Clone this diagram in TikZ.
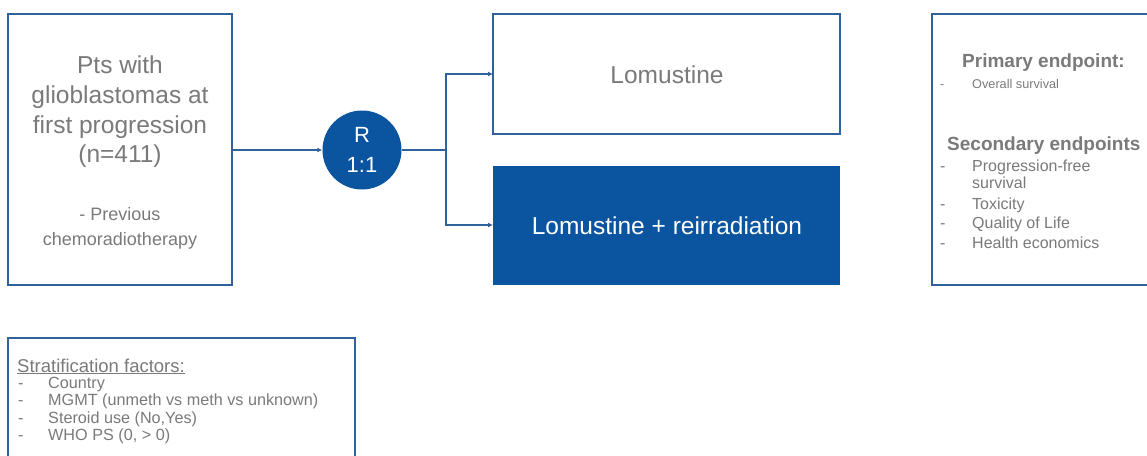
\documentclass[tikz,border=0pt]{standalone}
\usepackage{fontspec}
\setmainfont{Liberation Sans}
\usetikzlibrary{arrows.meta}
\definecolor{tblue}{HTML}{0B549F}
\definecolor{lblue}{HTML}{2F619A}
\definecolor{tgray}{HTML}{7A7A7A}
\tikzset{
  box/.style={draw=lblue, line width=2pt, fill=white},
  conn/.style={draw=lblue, line width=1.8pt},
  arr/.style={conn, -{Latex[length=5pt,width=5pt]}},
  gtxt/.style={text=tgray, inner sep=0pt},
  item/.style={text=tgray, inner sep=0pt, anchor=base west, font=\fontsize{16}{18}\selectfont},
  sitem/.style={item, font=\fontsize{16.2}{18}\selectfont},
}
\begin{document}
\begin{tikzpicture}[x=1pt,y=-1pt]
\useasboundingbox (0,0) rectangle (1147,455);
\clip (0,0) rectangle (1147,455);
\fill[white] (0,0) rectangle (1147,455);
% boxes
\draw[box] (8,14) rectangle (232,285);
\coordinate (pts) at (232,150);
\node[gtxt, align=center, font=\fontsize{24.5}{29.7}\selectfont] (ptst) at (120,112) {Pts with\\glioblastomas at\\first progression\\(n=411)};
\node[gtxt, align=center, font=\fontsize{18}{25}\selectfont] (prev) at (120,228) {- Previous\\chemoradiotherapy};
\node[circle, fill=tblue, minimum size=79pt, inner sep=0pt, text=white, align=center, font=\fontsize{22}{30}\selectfont] (R) at (362,150) {R\\1:1};
\draw[box] (493,14) rectangle (840,134);
\node[gtxt, font=\fontsize{24.5}{25}\selectfont] (lom) at (667,75) {Lomustine};
\fill[tblue] (493,166) rectangle (840,285);
\node[text=white, inner sep=0pt, font=\fontsize{24.5}{25}\selectfont] (lomr) at (667,226) {Lomustine + reirradiation};
\coordinate (lomin) at (493,74);
\coordinate (lomrin) at (493,225);
\coordinate (br) at (446,150);
% connectors
\draw[arr] (pts) -- (R.west);
\draw[conn] (R.east) -- (br);
\draw[arr] (br) |- (lomin);
\draw[arr] (br) |- (lomrin);
% endpoints box
\draw[box] (932,14) rectangle (1170,285);
\node[gtxt, anchor=base west, font=\fontsize{19}{22}\selectfont\bfseries] (prim) at (962,67) {Primary endpoint:};
\node[item, font=\fontsize{12.7}{15}\selectfont] (d1) at (940,88) {-};
\node[item, font=\fontsize{12.7}{15}\selectfont] (i1) at (972,88) {Overall survival};
\node[gtxt, anchor=base west, font=\fontsize{19}{22}\selectfont\bfseries] (sec) at (947,150) {Secondary endpoints};
\node[item] (d2) at (940,171) {-};
\node[item] (i2) at (972,171) {Progression-free};
\node[item] (i2b) at (972,188) {survival};
\node[item] (d3) at (940,209) {-};
\node[item] (i3) at (972,209) {Toxicity};
\node[item] (d4) at (940,228) {-};
\node[item] (i4) at (972,228) {Quality of Life};
\node[item] (d5) at (940,248) {-};
\node[item] (i5) at (972,248) {Health economics};
% stratification box
\draw[box] (8,338) rectangle (355,480);
\node[item, font=\fontsize{18.5}{20}\selectfont] (st) at (17,372) {\underline{Stratification factors:}};
\node[sitem] (s1d) at (18,388) {-};
\node[sitem] (s1) at (48,388) {Country};
\node[sitem] (s2d) at (18,405.5) {-};
\node[sitem] (s2) at (48,405.5) {MGMT (unmeth vs meth vs unknown)};
\node[sitem] (s3d) at (18,423) {-};
\node[sitem] (s3) at (48,423) {Steroid use (No,Yes)};
\node[sitem] (s4d) at (18,440.5) {-};
\node[sitem] (s4) at (48,440.5) {WHO PS (0, > 0)};
\end{tikzpicture}
\end{document}
